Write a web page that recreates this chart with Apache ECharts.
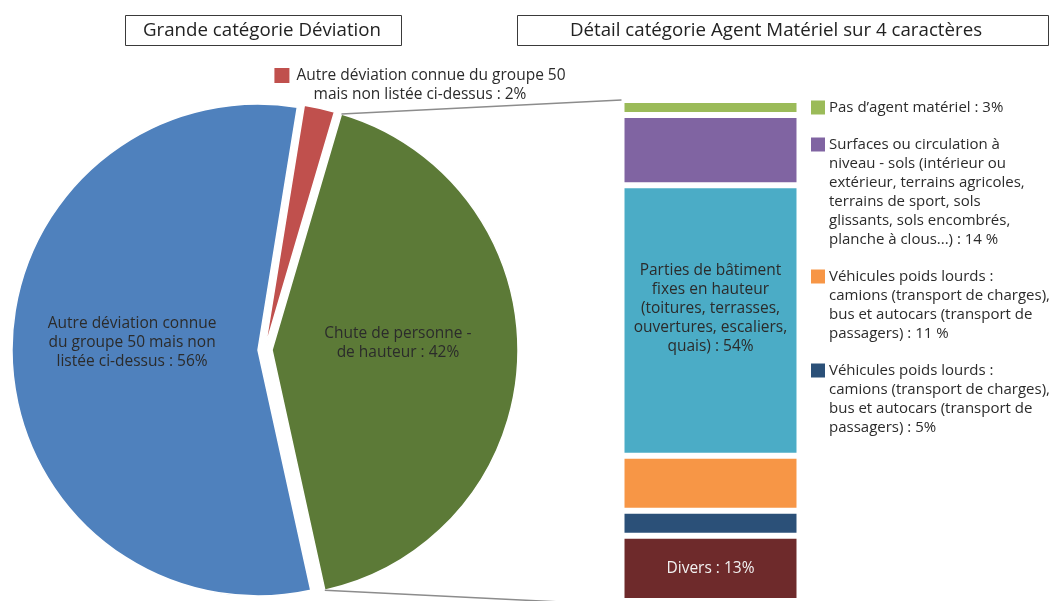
<!DOCTYPE html>
<html>
<head>
<meta charset="utf-8">
<script src="https://cdn.jsdelivr.net/npm/echarts@6/dist/echarts.min.js"></script>
<style>
  html, body { margin: 0; padding: 0; background: #ffffff; }
  #chart { width: 1055px; height: 601px; }
</style>
</head>
<body>
<div id="chart"></div>
<script>
// ---- Pie: grande catégorie Déviation (clockwise order from the top) ----
const pieLabels = [
  'Autre déviation connue du groupe 50\nmais non listée ci-dessus : 2%',
  'Chute de personne -\nde hauteur : 42%',
  'Autre déviation connue\ndu groupe 50 mais non\nlistée ci-dessus : 56%'
];
const pieValues = [2, 42, 56];
const pieColors = ['#c0504d', '#5c7a37', '#4f81bd'];

// ---- Stacked bar: détail catégorie Agent Matériel (top to bottom) ----
const barNames = [
  'Pas d’agent matériel : 3%',
  'Surfaces ou circulation à\nniveau - sols (intérieur ou\nextérieur, terrains agricoles,\nterrains de sport, sols\nglissants, sols encombrés,\nplanche à clous...) : 14 %',
  'Parties de bâtiment\nfixes en hauteur\n(toitures, terrasses,\nouvertures, escaliers,\nquais) : 54%',
  'Véhicules poids lourds :\ncamions (transport de charges),\nbus et autocars (transport de\npassagers) : 11 %',
  'Véhicules poids lourds :\ncamions (transport de charges),\nbus et autocars (transport de\npassagers) : 5%',
  'Divers : 13%'
];
const barValues = [3, 14, 54, 11, 5, 13];
const barColors = ['#9bbb59', '#8064a2', '#4bacc6', '#f79646', '#2b5078', '#6e2a2b'];
const legendItems = [0, 1, 3, 4];
const barLabelled = [2, 5];

const titles = ['Grande catégorie Déviation', 'Détail catégorie Agent Matériel sur 4 caractères'];

// ---- layout ----
const FONT = '"Open Sans", "DejaVu Sans", sans-serif';
const FS = 15.5;
const FS_LEGEND = 15;
const TEXT = '#2b2b2b';
const pieCenter = [258, 350];
const pieRadius = 246;
const pieStart = 80.8;                         // echarts degrees (90 = 12 o'clock)
const sliceShift = [[7, -2], [14, 0], [0, 0]]; // pulled-out slices, px
const grid = { left: 621.5, top: 100, width: 178, height: 505 };

const chart = echarts.init(document.getElementById('chart'), null, { renderer: 'canvas' });

// cumulative angles (clockwise from 12 o'clock, in degrees)
const total = pieValues.reduce((a, b) => a + b, 0);
const sliceAngles = [];
let acc = 90 - pieStart;
pieValues.forEach(v => {
  const a0 = acc;
  acc += v / total * 360;
  sliceAngles.push([a0, acc]);
});
const rad = d => d * Math.PI / 180;
const sliceCenter = i => [pieCenter[0] + sliceShift[i][0], pieCenter[1] + sliceShift[i][1]];

// one pie series per slice so each slice can be pulled out by its own amount
const pieSeries = pieValues.map((_, i) => ({
  type: 'pie',
  center: sliceCenter(i),
  radius: pieRadius,
  startAngle: pieStart,
  clockwise: true,
  avoidLabelOverlap: false,
  emphasis: { disabled: true },
  labelLine: { show: false },
  data: pieValues.map((v, j) => ({
    name: pieLabels[j],
    value: v,
    itemStyle: j === i
      ? { color: pieColors[j], borderColor: '#ffffff', borderWidth: 1.5 }
      : { color: 'transparent', borderWidth: 0 },
    label: j === i ? {
      show: true,
      position: j === 0 ? 'outside' : 'inside',
      formatter: j === 0
        ? p => p.name.split('\n').map((ln, k) => (k === 0 ? '{sq|}{g|}' : '') + '{t|' + ln + '}').join('\n')
        : '{b}',
      color: TEXT,
      fontFamily: FONT,
      fontSize: FS,
      lineHeight: 19,
      align: 'center',
      rich: {
        sq: { width: 15, height: 15, backgroundColor: pieColors[0] },
        g: { width: 7 },
        t: { color: TEXT, fontFamily: FONT, fontSize: FS, lineHeight: 19 }
      }
    } : { show: false }
  })),
  labelLayout: p => p.dataIndex === 0
    ? { x: 420, y: 85, align: 'center', verticalAlign: 'middle' }
    : { dy: -11 }
}));

// stacked bar, first series sits at the bottom
const barSeries = barValues.map((v, i) => ({ i, v })).reverse().map(({ i, v }) => ({
  type: 'bar',
  name: barNames[i],
  stack: 'detail',
  barWidth: '100%',
  data: [v],
  itemStyle: { color: barColors[i], borderColor: '#ffffff', borderWidth: 3 },
  emphasis: { disabled: true },
  label: {
    show: barLabelled.includes(i),
    position: 'inside',
    formatter: '{a}',
    color: i === 5 ? '#f2f2f2' : TEXT,
    fontFamily: FONT,
    fontSize: FS,
    lineHeight: 19,
    offset: i === 2 ? [0, -12] : [0, 0]
  }
}));

// legend rows: coloured square on the first line, following lines indented
const legendRich = { g: { width: 4 }, p: { width: 18 }, t: { color: TEXT, fontFamily: FONT, fontSize: FS_LEGEND, lineHeight: 19 } };
barColors.forEach((c, i) => { legendRich['s' + i] = { width: 14, height: 14, backgroundColor: c }; });

// connector lines from the pulled-out slice edges to the bar ends
const gc = sliceCenter(1);
const edgePoint = deg => [gc[0] + pieRadius * Math.sin(rad(deg)), gc[1] - pieRadius * Math.cos(rad(deg))];
const pTop = edgePoint(sliceAngles[1][0]);
const pBot = edgePoint(sliceAngles[1][1]);

const option = {
  backgroundColor: '#ffffff',
  animation: false,
  grid: { left: grid.left, top: grid.top, width: grid.width, height: grid.height, containLabel: false },
  xAxis: { type: 'category', data: [''], show: false },
  yAxis: { type: 'value', min: 0, max: 100, show: false },
  legend: {
    orient: 'vertical',
    left: 805,
    top: 98,
    padding: 0,
    itemGap: 18,
    itemWidth: 0,
    itemHeight: 0,
    textGap: 0,
    itemStyle: { opacity: 0 },
    textStyle: { color: TEXT, fontFamily: FONT, fontSize: FS_LEGEND, lineHeight: 19, rich: legendRich },
    data: legendItems.map(i => barNames[i]),
    formatter: name => {
      const i = barNames.indexOf(name);
      return name.split('\n').map((ln, k) => (k === 0 ? '{s' + i + '|}{g|}' : '{p|}') + '{t|' + ln + '}').join('\n');
    }
  },
  graphic: [
    { type: 'rect', shape: { x: 125.5, y: 15.5, width: 276, height: 30 }, style: { fill: '#fff', stroke: '#3a3a3a', lineWidth: 1 } },
    { type: 'text', x: 262, y: 31, style: { text: titles[0], fill: '#222', font: '18.7px ' + FONT, textAlign: 'center', textVerticalAlign: 'middle' } },
    { type: 'rect', shape: { x: 517.5, y: 15.5, width: 531, height: 30 }, style: { fill: '#fff', stroke: '#3a3a3a', lineWidth: 1 } },
    { type: 'text', x: 776, y: 31, style: { text: titles[1], fill: '#222', font: '18.7px ' + FONT, textAlign: 'center', textVerticalAlign: 'middle' } },
    { type: 'line', shape: { x1: pTop[0], y1: pTop[1], x2: grid.left, y2: grid.top }, style: { stroke: '#8c8c8c', lineWidth: 1.5 }, z: 10 },
    { type: 'line', shape: { x1: pBot[0], y1: pBot[1], x2: grid.left, y2: grid.top + grid.height }, style: { stroke: '#8c8c8c', lineWidth: 1.5 }, z: 10 }
  ],
  series: [...pieSeries, ...barSeries]
};

chart.setOption(option);
</script>
</body>
</html>
